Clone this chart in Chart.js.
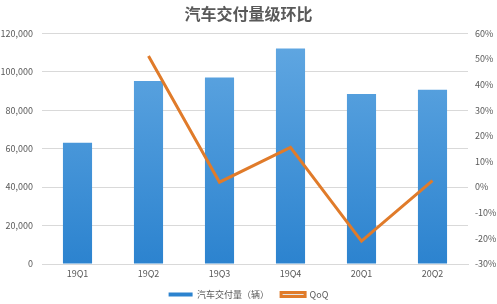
<!DOCTYPE html>
<html>
<head>
<meta charset="utf-8">
<script src="https://cdn.jsdelivr.net/npm/chart.js@4.4.0/dist/chart.umd.min.js"></script>
<style>
html,body{margin:0;padding:0;background:#fff;}
#wrap{width:497px;height:304px;position:relative;}
</style>
</head>
<body>
<div id="wrap"><canvas id="canvas" width="497" height="304"></canvas></div>
<script>
// 数据
var quarters = ["19Q1", "19Q2", "19Q3", "19Q4", "20Q1", "20Q2"];
var deliveries = [63000, 95200, 97000, 112000, 88400, 90650];
var qoq = [null, 51.1, 1.9, 15.5, -21.1, 2.5];

var FONT = "'Noto Sans CJK SC', 'Liberation Sans', sans-serif";

// 柱子渐变色
function barGradient(ctx) {
    var chart = ctx.chart;
    var area = chart.chartArea;
    if (!area) return "#3a8fd8";
    var g = chart.ctx.createLinearGradient(0, area.top, 0, area.bottom);
    g.addColorStop(0, "#62a8e2");
    g.addColorStop(1, "#2c83cf");
    return g;
}

var ctx = document.getElementById("canvas").getContext("2d");
var config = {
    data: {
        labels: quarters,
        datasets: [
            {
                type: "line",
                label: "QoQ",
                data: qoq,
                yAxisID: "y1",
                borderColor: "#e07b2a",
                borderWidth: 3,
                pointRadius: 0,
                fill: false,
                tension: 0,
                order: 0
            },
            {
                type: "bar",
                label: "汽车交付量（辆）",
                data: deliveries,
                yAxisID: "y",
                backgroundColor: barGradient,
                borderWidth: 0,
                barPercentage: 0.82,
                categoryPercentage: 0.5,
                order: 1
            }
        ]
    },
    options: {
        responsive: false,
        animation: false,
        layout: { padding: { left: 0, right: 0, top: 4, bottom: -5 } },
        plugins: {
            title: {
                display: true,
                text: "汽车交付量级环比",
                color: "#595959",
                font: { family: FONT, size: 16, weight: "bold" },
                padding: { top: 0, bottom: 10 }
            },
            legend: {
                position: "bottom",
                reverse: true,
                labels: {
                    color: "#595959",
                    font: { family: FONT, size: 9 },
                    boxWidth: 24,
                    boxHeight: 4,
                    padding: 12
                }
            },
            tooltip: { enabled: false }
        },
        scales: {
            x: {
                grid: { display: false, drawTicks: false },
                border: { color: "#d9d9d9" },
                ticks: { color: "#595959", font: { family: FONT, size: 9 }, padding: 4 },
                afterFit: function (s) { s.height = 14; }
            },
            y: {
                position: "left",
                min: 0,
                max: 120000,
                grid: { color: "#d9d9d9", drawTicks: false },
                border: { display: false },
                ticks: {
                    stepSize: 20000,
                    color: "#595959",
                    font: { family: FONT, size: 9 },
                    padding: 9,
                    callback: function (v) { return v.toLocaleString("en-US"); }
                },
                afterFit: function (s) { s.width = 42; }
            },
            y1: {
                position: "right",
                min: -30,
                max: 60,
                grid: { display: false, drawTicks: false },
                border: { display: false },
                ticks: {
                    stepSize: 10,
                    color: "#595959",
                    font: { family: FONT, size: 9 },
                    padding: 7,
                    callback: function (v) { return v + "%"; }
                },
                afterFit: function (s) { s.width = 29; }
            }
        }
    }
};
var myChart = new Chart(ctx, config);
</script>
</body>
</html>
